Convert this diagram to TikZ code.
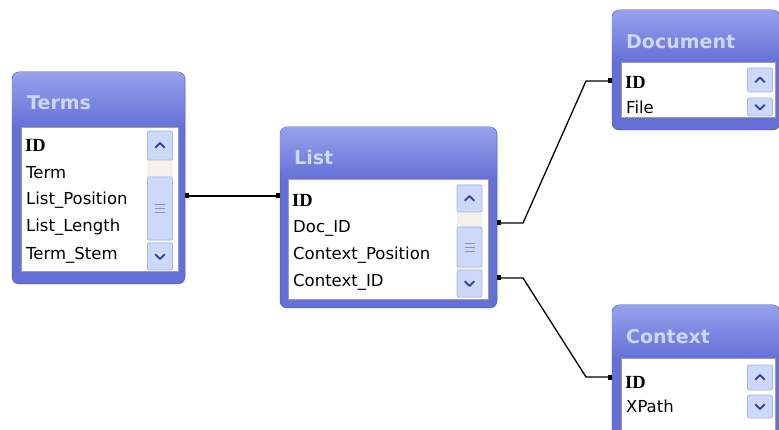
\documentclass[tikz,border=0pt]{standalone}
\usepackage{fontspec}
\setsansfont{DejaVu Sans}
\newfontfamily\keyfont{Liberation Serif}
\usepackage{xcolor}
\usetikzlibrary{arrows.meta}

\definecolor{frameblue}{RGB}{100,112,214}
\definecolor{titletop}{RGB}{150,162,236}
\definecolor{titletext}{RGB}{205,216,248}
\definecolor{btnfill}{RGB}{206,216,250}
\definecolor{btnline}{RGB}{168,182,232}
\definecolor{chevblue}{RGB}{52,72,156}
\definecolor{trackfill}{RGB}{244,242,232}

\begin{document}
\begin{tikzpicture}[x=1pt, y=-1pt,
        frame/.style={rectangle, rounded corners=7pt, fill=frameblue, draw=frameblue!85!black, line width=0.5pt, inner sep=0pt},
        titlebar/.style={rectangle, rounded corners=7pt, top color=titletop, bottom color=frameblue, inner sep=0pt},
        title/.style={anchor=west, inner sep=0pt, text=titletext, font=\sffamily\bfseries\fontsize{19}{19}\selectfont},
        listbox/.style={rectangle, fill=white, draw=gray!75, line width=1pt, inner sep=0pt},
        track/.style={rectangle, fill=trackfill, inner sep=0pt},
        btn/.style={rectangle, rounded corners=2pt, fill=btnfill, draw=btnline, line width=0.8pt, inner sep=0pt},
        row/.style={anchor=west, inner sep=0pt, font=\sffamily\fontsize{16.5}{16.5}\selectfont},
        keyrow/.style={anchor=west, inner sep=0pt, font=\keyfont\bfseries\fontsize{18.5}{18.5}\selectfont},
        chev/.style={draw=chevblue, line width=2pt, line cap=round, line join=round},
        grip/.style={draw=btnline!80!black, line width=0.6pt},
        link/.style={draw=black, line width=1.3pt, {Square[length=4pt,width=5pt]}-{Square[length=4pt,width=5pt]}}]
        \clip (0,0) rectangle (779,430);
        \fill[white] (0,0) rectangle (779,430);

        % Terms
        \node[frame, minimum width=173, minimum height=212] (terms) at (98.5,178) {};
        \node[titlebar, minimum width=172, minimum height=56] (termsBar) at (98.5,100) {};
        \node[title] (termsTitle) at (27,103) {Terms};
        \node[listbox, minimum width=157, minimum height=144] (termsBox) at (99.5,200) {};
        \node[track, minimum width=26, minimum height=139] (termsTrack) at (160,200.5) {};
        \node[btn, minimum width=25, minimum height=29] (termsUp) at (160,145.5) {};
        \node[btn, minimum width=25, minimum height=63] (termsThumb) at (160,208.5) {};
        \node[btn, minimum width=25, minimum height=27] (termsDown) at (160,256.5) {};
        \node[keyrow] (tId) at (25,145) {ID};
        \node[row] (tTerm) at (26,173) {Term};
        \node[row] (tPos) at (26,200) {List\_Position};
        \node[row] (tLen) at (26,227) {List\_Length};
        \node[row] (tStem) at (26,255) {Term\_Stem};

        % List
        \node[frame, minimum width=217, minimum height=181] (list) at (388.5,217.5) {};
        \node[titlebar, minimum width=216, minimum height=53] (listBar) at (388.5,153.5) {};
        \node[title] (listTitle) at (294,157) {List};
        \node[listbox, minimum width=200, minimum height=120] (listBox) at (388,240) {};
        \node[track, minimum width=25, minimum height=114] (listTrack) at (469.5,241) {};
        \node[btn, minimum width=25, minimum height=27] (listUp) at (469.5,198.5) {};
        \node[btn, minimum width=25, minimum height=40] (listThumb) at (469.5,247) {};
        \node[btn, minimum width=25, minimum height=27] (listDown) at (469.5,283.5) {};
        \node[keyrow] (lId) at (292,200) {ID};
        \node[row] (lDoc) at (293,228) {Doc\_ID};
        \node[row] (lPos) at (293,255) {Context\_Position};
        \node[row] (lCtx) at (293,282) {Context\_ID};

        % Document
        \node[frame, minimum width=168, minimum height=120] (doc) at (696,70) {};
        \node[titlebar, minimum width=167, minimum height=53] (docBar) at (696,36.5) {};
        \node[title] (docTitle) at (626,42) {Document};
        \node[listbox, minimum width=154, minimum height=55] (docBox) at (698,90.5) {};
        \node[btn, minimum width=25, minimum height=24] (docUp) at (760,80) {};
        \node[btn, minimum width=25, minimum height=18] (docDown) at (760,107) {};
        \node[keyrow] (dId) at (625,82) {ID};
        \node[row] (dFile) at (626,107) {File};

        % Context
        \node[frame, minimum width=168, minimum height=155] (ctx) at (696,382.5) {};
        \node[titlebar, minimum width=167, minimum height=53] (ctxBar) at (696,331.5) {};
        \node[title] (ctxTitle) at (626,337) {Context};
        \node[listbox, minimum width=154, minimum height=87] (ctxBox) at (698,401.5) {};
        \node[btn, minimum width=25, minimum height=25] (ctxUp) at (760,377.5) {};
        \node[btn, minimum width=25, minimum height=23] (ctxDown) at (760,406.5) {};
        \node[keyrow] (cId) at (625,382) {ID};
        \node[row] (cPath) at (626,406) {XPath};

        % scroll arrows and grips
        \foreach \b in {termsUp, listUp, docUp, ctxUp}
            \draw[chev] ([xshift=-4.5pt,yshift=-2pt]\b.center) -- ([yshift=2.5pt]\b.center) -- ([xshift=4.5pt,yshift=-2pt]\b.center);
        \foreach \b in {termsDown, listDown, docDown, ctxDown}
            \draw[chev] ([xshift=-4.5pt,yshift=2pt]\b.center) -- ([yshift=-2.5pt]\b.center) -- ([xshift=4.5pt,yshift=2pt]\b.center);
        \foreach \t in {termsThumb, listThumb}
            \foreach \d in {-4,0,4}
                \draw[grip] ([xshift=-5pt,yshift=\d pt]\t.center) -- ([xshift=5pt,yshift=\d pt]\t.center);

        % relationships
        \coordinate (termsOut) at (terms.east |- 0,196);
        \coordinate (listIn) at (list.west |- 0,196);
        \coordinate (listDocOut) at (list.east |- 0,223);
        \coordinate (docIn) at (doc.west |- 0,81);
        \coordinate (listCtxOut) at (list.east |- 0,278);
        \coordinate (ctxIn) at (ctx.west |- 0,377);

        \draw[link] (termsOut) -- (listIn);
        \draw[link] (listDocOut) -- (523,223) -- (586,81) -- (docIn);
        \draw[link] (listCtxOut) -- (523,278) -- (586,377) -- (ctxIn);
    \end{tikzpicture}
\end{document}
